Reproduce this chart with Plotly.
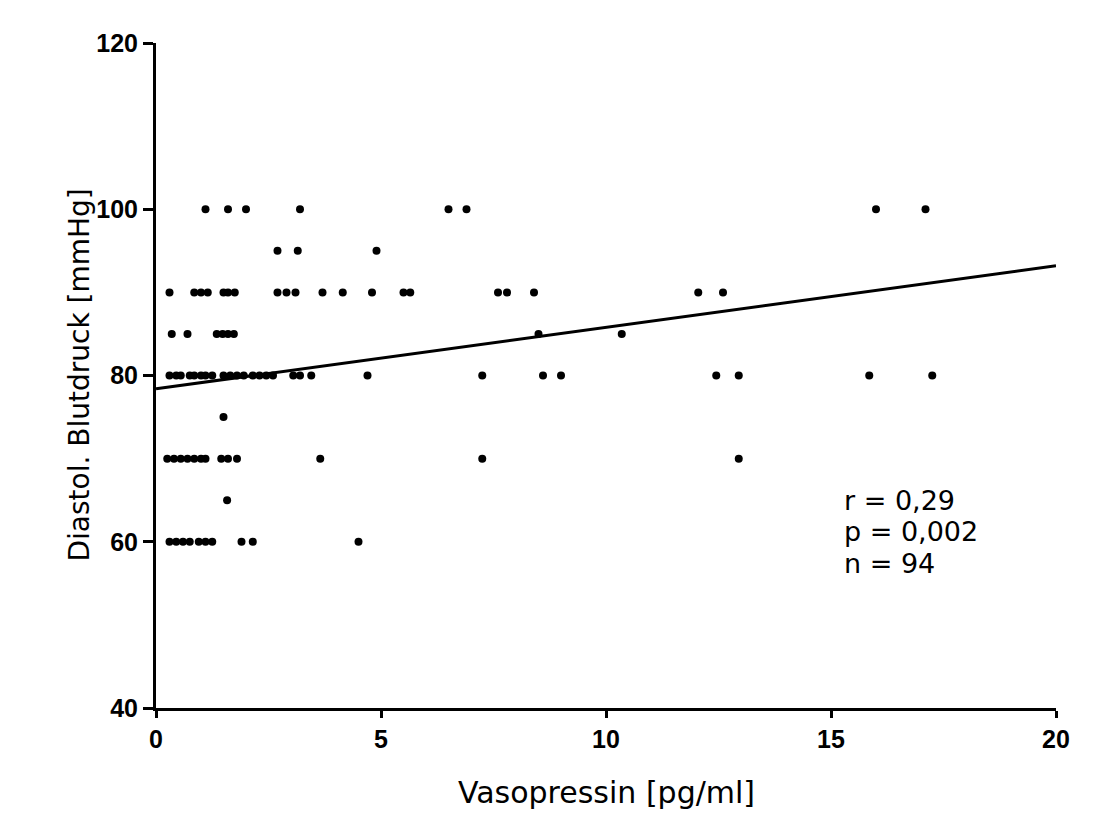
import plotly.graph_objects as go

# Scatter data (Vasopressin pg/ml, diastolic BP mmHg)
x_100 = [1.1, 1.6, 2.0, 3.2, 6.5, 6.9, 16.0, 17.1]
x_95 = [2.7, 3.15, 4.9]
x_90 = [0.3, 0.85, 1.0, 1.15, 1.5, 1.6, 1.75, 2.7, 2.9, 3.1, 3.7, 4.15,
        4.8, 5.5, 5.65, 7.6, 7.8, 8.4, 12.05, 12.6]
x_85 = [0.35, 0.7, 1.35, 1.48, 1.6, 1.73, 8.5, 10.35]
x_80 = [0.3, 0.45, 0.55, 0.75, 0.85, 1.0, 1.1, 1.25, 1.5, 1.65, 1.8, 1.95,
        2.15, 2.3, 2.45, 2.6, 3.05, 3.2, 3.45, 4.7, 7.25, 8.6, 9.0, 12.45,
        12.95, 15.85, 17.25]
x_75 = [1.5]
x_70 = [0.25, 0.4, 0.55, 0.7, 0.85, 1.0, 1.1, 1.45, 1.6, 1.8, 3.65, 7.25, 12.95]
x_65 = [1.58]
x_60 = [0.3, 0.45, 0.6, 0.75, 0.95, 1.1, 1.25, 1.9, 2.15, 4.5]

rows = [(100, x_100), (95, x_95), (90, x_90), (85, x_85), (80, x_80),
        (75, x_75), (70, x_70), (65, x_65), (60, x_60)]

# Regression line end points
reg_x = [0, 20]
reg_y = [78.4, 93.2]

# Statistics text
stats_lines = ["r = 0,29", "p = 0,002", "n = 94"]
stats_y = [65.0, 61.2, 57.4]

x_ticks = [0, 5, 10, 15, 20]
y_ticks = [40, 60, 80, 100, 120]

x_title = "Vasopressin [pg/ml]"
y_title = "Diastol. Blutdruck [mmHg]"

xs, ys = [], []
for yv, xl in rows:
    xs.extend(xl)
    ys.extend([yv] * len(xl))

FONT = "DejaVu Sans"
TICKFONT = dict(family="Liberation Sans", size=25, color="black", weight="bold")

fig = go.Figure()
fig.add_trace(go.Scatter(
    x=xs, y=ys, mode="markers",
    marker=dict(color="black", size=8, line=dict(width=0)),
    showlegend=False, cliponaxis=False,
))
fig.add_trace(go.Scatter(
    x=reg_x, y=reg_y, mode="lines",
    line=dict(color="black", width=3),
    showlegend=False,
))

for txt, yv in zip(stats_lines, stats_y):
    fig.add_annotation(x=15.25, y=yv, xref="x", yref="y", text=txt,
                       showarrow=False, xanchor="left", yanchor="middle",
                       font=dict(family=FONT, size=27, color="black"))

fig.add_annotation(x=0.5, y=0, xref="paper", yref="paper", text=x_title,
                   showarrow=False, xanchor="center", yanchor="middle",
                   yshift=-84, font=dict(family=FONT, size=30, color="black"))
fig.add_annotation(x=0, y=0.5, xref="paper", yref="paper", text=y_title,
                   showarrow=False, xanchor="center", yanchor="middle",
                   textangle=-90, xshift=-77,
                   font=dict(family=FONT, size=28, color="black"))

fig.update_layout(
    width=1098, height=824,
    margin=dict(l=148, r=50, t=35, b=124),
    paper_bgcolor="white", plot_bgcolor="white",
    font=dict(family=FONT, color="black"),
)
fig.update_xaxes(
    range=[0, 20], tickvals=x_ticks, ticktext=[str(v) for v in x_ticks],
    showgrid=False, zeroline=False, showline=True, linecolor="black",
    linewidth=3, ticks="outside", ticklen=7, tickwidth=3, tickcolor="black",
    tickfont=TICKFONT,
)
fig.update_yaxes(
    range=[40, 120], tickvals=y_ticks, ticktext=[str(v) for v in y_ticks],
    showgrid=False, zeroline=False, showline=True, linecolor="black",
    linewidth=3, ticks="outside", ticklen=10, tickwidth=3, tickcolor="black",
    tickfont=TICKFONT,
)

fig.write_html("out.html")
